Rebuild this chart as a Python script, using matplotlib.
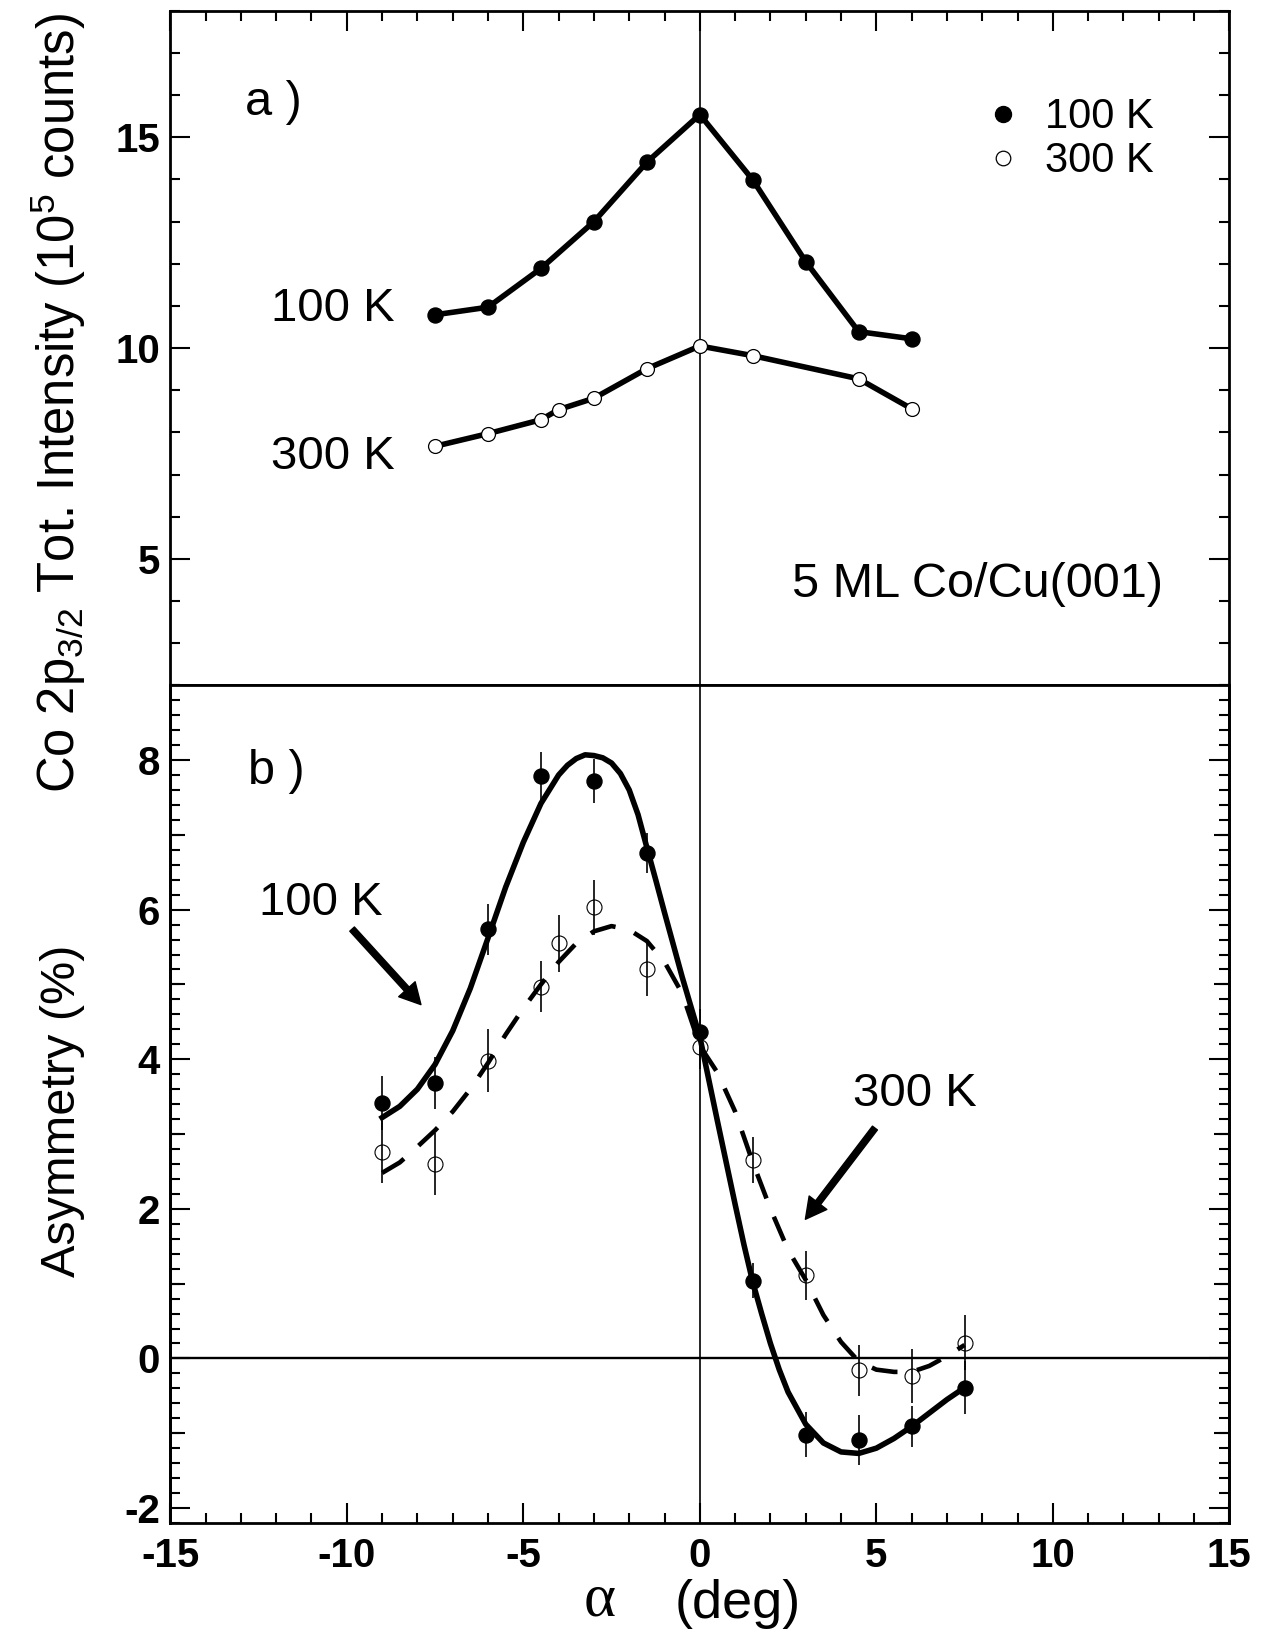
import matplotlib
matplotlib.use('Agg')
import matplotlib.pyplot as plt
import numpy as np
from matplotlib.ticker import MultipleLocator, FixedLocator, FormatStrFormatter, NullLocator
from matplotlib.lines import Line2D

plt.rcParams['font.family'] = ['Liberation Sans', 'DejaVu Sans']
plt.rcParams['axes.unicode_minus'] = False
plt.rcParams['mathtext.fontset'] = 'custom'
plt.rcParams['mathtext.rm'] = 'Liberation Sans'
plt.rcParams['mathtext.it'] = 'Liberation Sans:italic'
plt.rcParams['mathtext.bf'] = 'Liberation Sans:bold'

# ---------------- data ----------------
# (a) total intensity (10^5 counts)
int_x_100 = [-7.5, -6, -4.5, -3, -1.5, 0, 1.5, 3, 4.5, 6]
int_y_100 = [10.79, 10.97, 11.89, 13.0, 14.41, 15.54, 13.99, 12.05, 10.39, 10.22]
int_x_300 = [-7.5, -6, -4.5, -4, -3, -1.5, 0, 1.5, 4.5, 6]
int_y_300 = [7.67, 7.97, 8.30, 8.54, 8.81, 9.51, 10.05, 9.82, 9.27, 8.56]

# (b) asymmetry (%)
asy_x_100 = [-9, -7.5, -6, -4.5, -3, -1.5, 0, 1.5, 3, 4.5, 6, 7.5]
asy_y_100 = [3.41, 3.68, 5.74, 7.79, 7.72, 6.76, 4.37, 1.04, -1.02, -1.09, -0.91, -0.39]
asy_e_100 = [0.36, 0.35, 0.34, 0.32, 0.30, 0.27, 0.30, 0.23, 0.30, 0.33, 0.28, 0.35]
asy_x_300 = [-9, -7.5, -6, -4.5, -4, -3, -1.5, 0, 1.5, 3, 4.5, 6, 7.5]
asy_y_300 = [2.76, 2.60, 3.98, 4.97, 5.55, 6.03, 5.20, 4.17, 2.65, 1.11, -0.16, -0.23, 0.21]
asy_e_300 = [0.42, 0.42, 0.42, 0.34, 0.38, 0.37, 0.35, 0.30, 0.31, 0.33, 0.34, 0.36, 0.37]

# fit curves
fit_x_100 = [-9, -8.5, -8, -7.5, -7, -6.5, -6, -5.5, -5, -4.5, -4, -3.75, -3.5, -3.25,
             -3, -2.75, -2.5, -2.25, -2, -1.75, -1.5, -1.25, -1, -0.5, 0, 0.5, 1,
             1.25, 1.5, 1.75, 2, 2.25, 2.5, 3, 3.5, 4, 4.5, 5, 5.5, 6, 6.5, 7, 7.5]
fit_y_100 = [3.22, 3.37, 3.60, 3.93, 4.38, 4.95, 5.62, 6.30, 6.90, 7.42, 7.80, 7.93,
             8.02, 8.07, 8.06, 8.03, 7.96, 7.82, 7.60, 7.27, 6.83, 6.40, 5.96, 5.10,
             4.30, 3.17, 2.06, 1.52, 1.02, 0.60, 0.20, -0.15, -0.45, -0.88, -1.13,
             -1.25, -1.27, -1.20, -1.07, -0.91, -0.73, -0.55, -0.39]
fit_x_300 = [-9, -8.5, -8, -7.5, -7, -6.5, -6, -5.5, -5, -4.5, -4, -3.5, -3, -2.5,
             -2, -1.5, -1, -0.5, 0, 0.5, 1, 1.5, 2, 2.5, 3, 3.5, 4, 4.5, 5, 5.5, 6,
             6.5, 7, 7.5]
fit_y_300 = [2.48, 2.62, 2.83, 3.05, 3.30, 3.60, 3.95, 4.33, 4.68, 5.00, 5.30, 5.55,
             5.71, 5.78, 5.73, 5.58, 5.30, 4.88, 4.18, 3.82, 3.30, 2.62, 2.00, 1.45,
             1.05, 0.58, 0.22, -0.04, -0.15, -0.18, -0.18, -0.10, 0.03, 0.18]

# ---------------- figure ----------------
fig = plt.figure(figsize=(12.67, 16.52), dpi=100)
ax1 = fig.add_axes([0.1344, 0.5852, 0.8359, 0.4082])
ax2 = fig.add_axes([0.1344, 0.0781, 0.8359, 0.5071])

for ax in (ax1, ax2):
    for s in ax.spines.values():
        s.set_linewidth(2.0)
    ax.set_xlim(-15, 15)
    ax.xaxis.set_major_locator(MultipleLocator(5))
    ax.xaxis.set_minor_locator(MultipleLocator(1))
    ax.xaxis.set_major_formatter(FormatStrFormatter('%d'))
    ax.yaxis.set_major_formatter(FormatStrFormatter('%d'))
    ax.tick_params(which='both', direction='in', width=1.5, left=True, right=True,
                   labelsize=29, pad=7.5)
    ax.tick_params(which='major', length=14.4)
    ax.tick_params(which='minor', length=7.2)
    for t in ax.get_yticklabels() + ax.get_xticklabels():
        t.set_fontweight('bold')
    ax.axvline(0, color='k', lw=1.2, zorder=1)

# top panel
ax1.set_ylim(2, 18)
ax1.yaxis.set_major_locator(MultipleLocator(5))
ax1.yaxis.set_minor_locator(MultipleLocator(1))
ax1.tick_params(axis='x', which='both', bottom=False, top=True,
                labelbottom=False, labeltop=False)

ax1.plot(int_x_100, int_y_100, '-o', color='k', lw=4.0, ms=10.8,
         mfc='k', mec='k', solid_joinstyle='round', zorder=3)
ax1.plot(int_x_300, int_y_300, '-', color='k', lw=4.0,
         solid_joinstyle='round', zorder=3)
ax1.plot(int_x_300, int_y_300, 'o', ms=10, mfc='white', mec='k', mew=0.9, zorder=4)

ax1.text(-12.88, 15.52, 'a )', fontsize=35, ha='left', va='baseline')
ax1.text(-12.15, 10.65, '100 K', fontsize=34, ha='left', va='baseline')
ax1.text(-12.15, 7.13, '300 K', fontsize=34, ha='left', va='baseline')
ax1.text(2.62, 4.09, '5 ML Co/Cu(001)', fontsize=35, ha='left', va='baseline')

handles = [Line2D([], [], marker='o', ls='none', ms=11.5, mfc='k', mec='k'),
           Line2D([], [], marker='o', ls='none', ms=10.5, mfc='white', mec='k', mew=0.9)]
ax1.legend(handles, ['100 K', '300 K'], loc='upper left', bbox_to_anchor=(0.7665, 0.872),
           frameon=False, fontsize=30, handlelength=1.0, handletextpad=0.5,
           labelspacing=0.1, borderpad=0, borderaxespad=0)

# bottom panel
ax2.set_ylim(-2.2, 9)
ax2.yaxis.set_major_locator(MultipleLocator(2))
ax2.yaxis.set_minor_locator(MultipleLocator(0.2))
ax2.tick_params(axis='x', which='both', bottom=True, top=False, pad=10)
ax2.axhline(0, color='k', lw=1.7, zorder=1)

odd_ticks = np.arange(-1, 9, 2)
for side in ('left', 'right'):
    sec = ax2.secondary_yaxis(side)
    sec.yaxis.set_major_locator(FixedLocator(odd_ticks))
    sec.yaxis.set_minor_locator(NullLocator())
    sec.tick_params(direction='in', length=10.8, width=1.5,
                    labelleft=False, labelright=False)
    sec.spines[side].set_linewidth(2.0)

ax2.plot(fit_x_100, fit_y_100, '-', color='k', lw=4.0, zorder=3,
         solid_joinstyle='round')
ln, = ax2.plot(fit_x_300, fit_y_300, '-', color='k', lw=3.3, zorder=3)
ln.set_dashes((5.7, 4.3))

ax2.errorbar(asy_x_100, asy_y_100, yerr=asy_e_100, fmt='o', color='k', ms=10.8,
             mfc='k', mec='k', elinewidth=1.2, capsize=0, zorder=4)
ax2.errorbar(asy_x_300, asy_y_300, yerr=asy_e_300, fmt='o', color='k', ms=10.8,
             mfc='none', mec='k', mew=0.8, elinewidth=1.2, capsize=0, zorder=4)

ax2.text(-12.8, 7.68, 'b )', fontsize=35, ha='left', va='baseline')
ax2.text(-12.49, 5.93, '100 K', fontsize=34, ha='left', va='baseline')
ax2.text(4.34, 3.37, '300 K', fontsize=34, ha='left', va='baseline')

arrow_100 = [(-9.85, 5.74), (-7.9, 4.73)]
arrow_300 = [(4.96, 3.08), (2.99, 1.86)]
for tail, tip in (arrow_100, arrow_300):
    ax2.annotate('', xy=tip, xytext=tail,
                 arrowprops=dict(facecolor='k', edgecolor='k', width=4.5,
                                 headwidth=16, headlength=15, shrink=0))

# axis labels
fig.text(75 / 1267, 1 - 403 / 1652,
         r'Co 2p$_{3/2}$ Tot. Intensity (10$^{5}$ counts)', fontsize=36.5,
         rotation=90, rotation_mode='anchor', ha='center', va='baseline')
fig.text(75 / 1267, 1 - 1111 / 1652, 'Asymmetry (%)', fontsize=35,
         rotation=90, rotation_mode='anchor', ha='center', va='baseline')
fig.text(600 / 1267, 1 - 1616 / 1652, 'α', fontsize=44, family='Liberation Serif',
         ha='center', va='baseline')
fig.text(675 / 1267, 1 - 1618 / 1652, '(deg)', fontsize=39, ha='left', va='baseline')

fig.savefig('out.png', dpi=100)
